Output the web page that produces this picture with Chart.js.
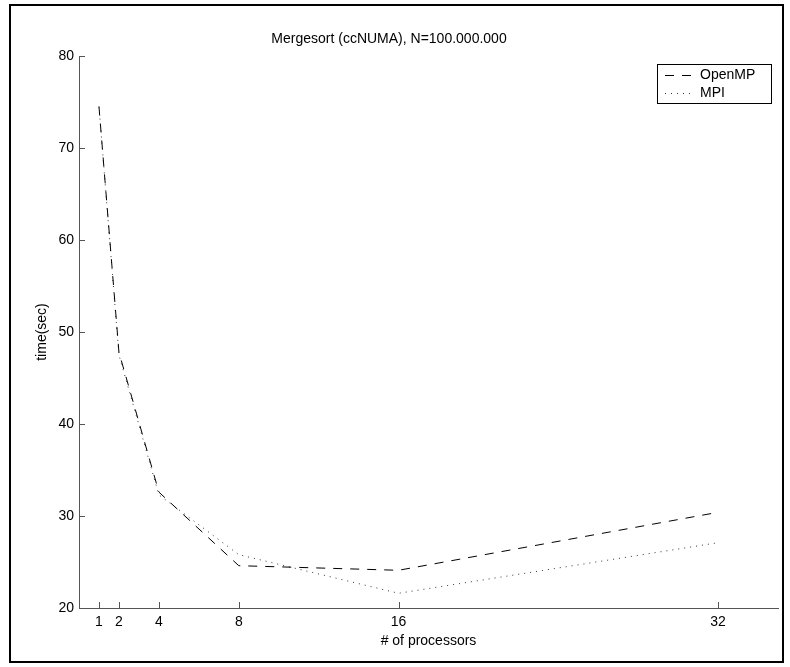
<!DOCTYPE html>
<html>
<head>
<meta charset="utf-8">
<script src="https://cdn.jsdelivr.net/npm/chart.js@4"></script>
<style>
  html, body { margin: 0; padding: 0; background: #fff; }
  canvas { display: block; }
</style>
</head>
<body>
<canvas id="mycanvas" width="790" height="667"></canvas>
<script>
// processors on x, seconds on y
const processors = [1, 2, 4, 8, 16, 32];
const openmpTime = [74.5, 47.8, 32.6, 24.6, 24.1, 30.4];
const mpiTime = [74.5, 47.5, 32.3, 25.8, 21.6, 27.1];
const xTicks = [1, 2, 4, 8, 16, 32];
const yTicks = [20, 30, 40, 50, 60, 70, 80];

const FONT = "'Liberation Sans', Arial, Helvetica, sans-serif";
const AXIS_COLOR = '#555';

const toPoints = function (xs, ys) {
    return xs.map((x, i) => ({x: x, y: ys[i]}));
};

// inward ticks, matlab-like legend box and outer frame
const extras = {
    id: 'extras',
    afterDraw: function (chart) {
        const ctx = chart.ctx;
        const xs = chart.scales.x;
        const ys = chart.scales.y;
        const area = chart.chartArea;
        ctx.save();
        ctx.strokeStyle = AXIS_COLOR;
        ctx.lineWidth = 1;
        ctx.setLineDash([]);
        ctx.beginPath();
        xTicks.forEach(v => {
            const px = Math.round(xs.getPixelForValue(v)) + 0.5;
            ctx.moveTo(px, area.bottom);
            ctx.lineTo(px, area.bottom - 6);
        });
        yTicks.forEach(v => {
            const py = Math.round(ys.getPixelForValue(v)) + 0.5;
            ctx.moveTo(area.left, py);
            ctx.lineTo(area.left + 6, py);
        });
        ctx.stroke();

        // legend
        const lx = 657, ly = 64, lw = 114, lh = 39;
        ctx.fillStyle = '#fff';
        ctx.fillRect(lx, ly, lw, lh);
        ctx.strokeStyle = '#000';
        ctx.lineWidth = 1;
        ctx.strokeRect(lx + 0.5, ly + 0.5, lw, lh);
        ctx.font = '14px ' + FONT;
        ctx.textBaseline = 'middle';
        ctx.textAlign = 'left';
        chart.data.datasets.forEach((ds, i) => {
            const rowY = ly + 11 + i * 18;
            ctx.strokeStyle = ds.borderColor;
            ctx.setLineDash(ds.borderDash);
            ctx.beginPath();
            ctx.moveTo(lx + 8, rowY + 0.5);
            ctx.lineTo(lx + 34, rowY + 0.5);
            ctx.stroke();
            ctx.setLineDash([]);
            ctx.fillStyle = '#000';
            ctx.fillText(ds.label, lx + 43, rowY);
        });

        // outer frame
        ctx.strokeStyle = '#000';
        ctx.lineWidth = 2;
        ctx.strokeRect(10, 5, 773, 657);
        ctx.restore();
    }
};

const loadChart = function () {
    const ctx = document.getElementById('mycanvas').getContext('2d');
    new Chart(ctx, {
        type: 'line',
        data: {
            datasets: [{
                label: 'OpenMP',
                data: toPoints(processors, openmpTime),
                borderColor: '#000',
                borderWidth: 1,
                borderDash: [9, 8],
                pointRadius: 0,
                fill: false,
                tension: 0
            }, {
                label: 'MPI',
                data: toPoints(processors, mpiTime),
                borderColor: '#333',
                borderWidth: 1,
                borderDash: [1, 5],
                pointRadius: 0,
                fill: false,
                tension: 0
            }]
        },
        options: {
            responsive: false,
            animation: false,
            layout: {padding: {left: 0, right: 12, top: 0, bottom: 0}},
            plugins: {
                legend: {display: false},
                tooltip: {enabled: false},
                title: {
                    display: true,
                    text: 'Mergesort (ccNUMA), N=100.000.000',
                    color: '#000',
                    font: {family: FONT, size: 14, weight: 'normal'},
                    padding: {top: 30.6, bottom: 8.6}
                }
            },
            scales: {
                x: {
                    type: 'linear',
                    min: 0,
                    max: 35,
                    afterBuildTicks: function (scale) {
                        scale.ticks = xTicks.map(v => ({value: v}));
                    },
                    afterFit: function (scale) {
                        scale.height = 59;
                    },
                    grid: {display: false, drawTicks: false, tickLength: 0},
                    border: {display: true, color: AXIS_COLOR, width: 1},
                    ticks: {
                        color: '#000',
                        font: {family: FONT, size: 14},
                        padding: 6,
                        maxRotation: 0,
                        autoSkip: false
                    },
                    title: {
                        display: true,
                        text: '# of processors',
                        color: '#000',
                        font: {family: FONT, size: 14},
                        padding: {top: 0, bottom: 17.6}
                    }
                },
                y: {
                    type: 'linear',
                    min: 20,
                    max: 80,
                    afterBuildTicks: function (scale) {
                        scale.ticks = yTicks.map(v => ({value: v}));
                    },
                    afterFit: function (scale) {
                        scale.width = 79;
                    },
                    grid: {display: false, drawTicks: false, tickLength: 0},
                    border: {display: true, color: AXIS_COLOR, width: 1},
                    ticks: {
                        color: '#000',
                        font: {family: FONT, size: 14},
                        padding: 5
                    },
                    title: {
                        display: true,
                        text: 'time(sec)',
                        color: '#000',
                        font: {family: FONT, size: 14},
                        padding: {top: 34, bottom: 0}
                    }
                }
            }
        },
        plugins: [extras]
    });
};

window.onload = function () {
    loadChart();
};
</script>
</body>
</html>
